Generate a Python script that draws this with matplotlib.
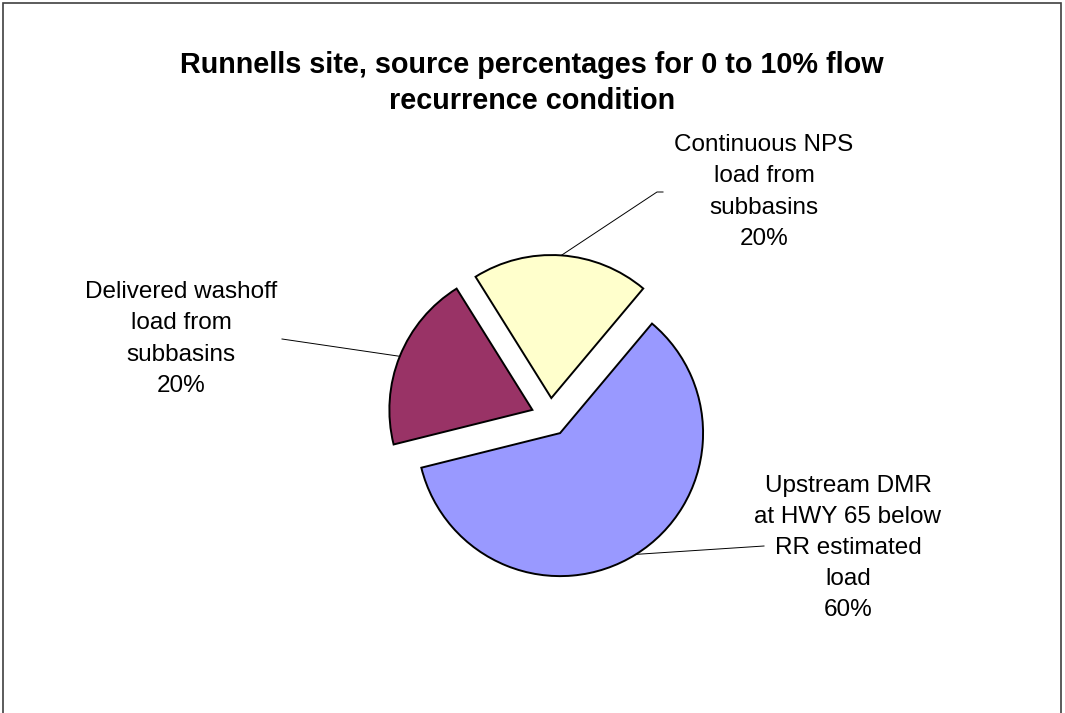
import matplotlib
matplotlib.use("Agg")
from matplotlib import pyplot as plt
from matplotlib.patches import Rectangle
import numpy as np

# source shares, in the order they go round the pie (clockwise from 50 deg)
sources = ["Upstream DMR\nat HWY 65 below\nRR estimated\nload",
           "Delivered washoff\nload from\nsubbasins",
           "Continuous NPS\nload from\nsubbasins"]
shares = [60, 20, 20]
colors = ["#9999FF", "#993366", "#FFFFCC"]

title = "Runnells site, source percentages for 0 to 10% flow\nrecurrence condition"

W, H = 1065, 713
plt.rcParams['font.family'] = ['Liberation Sans', 'DejaVu Sans']

fig = plt.figure(figsize=(W / 100, H / 100), dpi=100)
ax = fig.add_axes([0, 0, 1, 1])

# pie in pixel-like data units, y measured upward
center = (550, H - 417)
radius = 143
wedges, _ = ax.pie(shares, colors=colors, startangle=50, counterclock=False,
                   explode=[19] * 3, center=center, radius=radius,
                   wedgeprops=dict(edgecolor="black", linewidth=1.4))
ax.set_xlim(0, W)
ax.set_ylim(0, H)
ax.set_aspect("equal")
ax.axis("off")

# label block centres and where the leader line ends
label_pos = [(848, H - 548), (181, H - 339), (764, H - 192)]
leader_end = [[(764, H - 546)], [(282, H - 339)], [(657, H - 192), (663, H - 192)]]

for w, name, pct, (lx, ly), ends in zip(wedges, sources, shares, label_pos, leader_end):
    mid = np.deg2rad((w.theta1 + w.theta2) / 2)
    cx, cy = w.center
    sx = cx + w.r * np.cos(mid)
    sy = cy + w.r * np.sin(mid)
    xs = [sx] + [p[0] for p in ends]
    ys = [sy] + [p[1] for p in ends]
    ax.plot(xs, ys, color="black", linewidth=0.7)
    ax.text(lx, ly, f"{name}\n{pct}%", ha="center", va="center",
            fontsize=17.5, linespacing=1.54)

fig.text(532 / W, 1 - 83 / H, title, ha="center", va="center",
         fontsize=20.7, fontweight="bold", linespacing=1.38)

# outer chart frame, open at the bottom
fig.patches.append(Rectangle((3 / W, -0.05), 1058 / W, 1.05 - 3 / H,
                             transform=fig.transFigure, fill=False,
                             edgecolor="#404040", linewidth=1.2))

fig.savefig("out.png", dpi=100)
